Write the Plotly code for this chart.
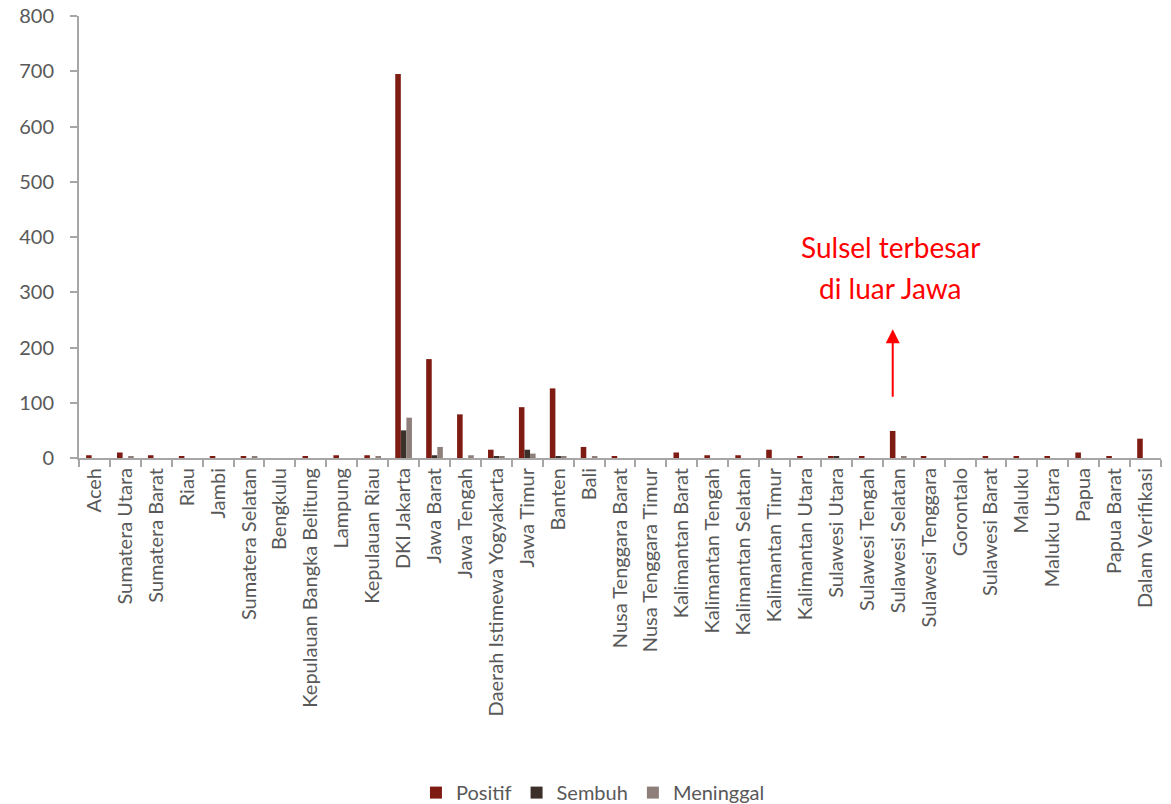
import plotly.graph_objects as go

provinces = ["Aceh", "Sumatera Utara", "Sumatera Barat", "Riau", "Jambi", "Sumatera Selatan",
             "Bengkulu", "Kepulauan Bangka Belitung", "Lampung", "Kepulauan Riau", "DKI Jakarta",
             "Jawa Barat", "Jawa Tengah", "Daerah Istimewa Yogyakarta", "Jawa Timur", "Banten", "Bali",
             "Nusa Tenggara Barat", "Nusa Tenggara Timur", "Kalimantan Barat", "Kalimantan Tengah",
             "Kalimantan Selatan", "Kalimantan Timur", "Kalimantan Utara", "Sulawesi Utara",
             "Sulawesi Tengah", "Sulawesi Selatan", "Sulawesi Tenggara", "Gorontalo", "Sulawesi Barat",
             "Maluku", "Maluku Utara", "Papua", "Papua Barat", "Dalam Verifikasi"]

positif = [5, 10, 5, 3, 3, 3, 0, 3, 5, 5, 695,
           179, 79, 15, 92, 126, 20, 2, 0, 10, 5,
           5, 15, 2, 2, 2, 49, 3, 0, 2,
           2, 2, 10, 2, 35]
sembuh = [0, 0, 0, 0, 0, 0, 0, 0, 0, 0, 50,
          5, 0, 3, 15, 3, 0, 0, 0, 0, 0,
          0, 0, 0, 2, 0, 0, 0, 0, 0,
          0, 0, 0, 0, 0]
meninggal = [0, 2, 0, 0, 0, 2, 0, 0, 0, 2, 73,
             20, 5, 2, 8, 3, 3, 0, 0, 0, 0,
             0, 0, 0, 0, 0, 2, 0, 0, 0,
             0, 0, 0, 0, 0]

y_ticks = [0, 100, 200, 300, 400, 500, 600, 700, 800]

colors = {"Positif": "#7E1B13", "Sembuh": "#3C302B", "Meninggal": "#8E7F7A"}
FONT = "Lato, 'Open Sans', sans-serif"
GRAY = "#595959"

fig = go.Figure()
for name, vals in [("Positif", positif), ("Sembuh", sembuh), ("Meninggal", meninggal)]:
    fig.add_trace(go.Bar(
        x=provinces, y=vals, name=name,
        marker=dict(color=colors[name], line=dict(width=0)),
    ))

fig.update_layout(
    width=1171, height=804,
    barmode="group", bargap=0.46, bargroupgap=0,
    plot_bgcolor="white", paper_bgcolor="white",
    margin=dict(l=79, r=10, t=16, b=346, autoexpand=False),
    font=dict(family=FONT, color=GRAY, size=20),
    legend=dict(orientation="h", x=0.475, xanchor="center", y=-0.757, yanchor="middle",
                font=dict(size=20, color=GRAY), traceorder="normal", itemwidth=30),
    showlegend=True,
)
fig.update_xaxes(
    type="category", showline=True, linecolor="#A6A6A6", linewidth=2, automargin=False,
    ticks="outside", tickson="boundaries", ticklen=7, tickcolor="#A6A6A6", tickwidth=2,
    tickangle=-90, tickfont=dict(size=20, color=GRAY), showgrid=False,
)
fig.update_yaxes(
    range=[0, 800], tickvals=y_ticks, showline=True, linecolor="#A6A6A6", linewidth=2,
    automargin=False,
    ticks="outside", ticklen=7, tickcolor="#A6A6A6", tickwidth=2, ticklabelstandoff=12,
    tickfont=dict(size=20, color=GRAY), showgrid=False, zeroline=False,
)

fig.add_annotation(
    x="Sulawesi Selatan", y=233, ax="Sulawesi Selatan", ay=108,
    xref="x", yref="y", axref="x", ayref="y", xshift=-5.5,
    text="", showarrow=True, arrowhead=2, arrowsize=1.4, arrowwidth=2, arrowcolor="#FF0000",
)
fig.add_annotation(
    x="Sulawesi Selatan", y=382, xref="x", yref="y", xshift=-8,
    text="Sulsel terbesar", showarrow=False,
    font=dict(size=28, color="#FF0000", family=FONT),
)
fig.add_annotation(
    x="Sulawesi Selatan", y=308, xref="x", yref="y", xshift=-8,
    text="di luar Jawa", showarrow=False,
    font=dict(size=28, color="#FF0000", family=FONT),
)

fig.write_html("out.html", config={"displayModeBar": False},
               post_script="document.body.style.margin='0px';document.body.style.overflow='hidden';")
